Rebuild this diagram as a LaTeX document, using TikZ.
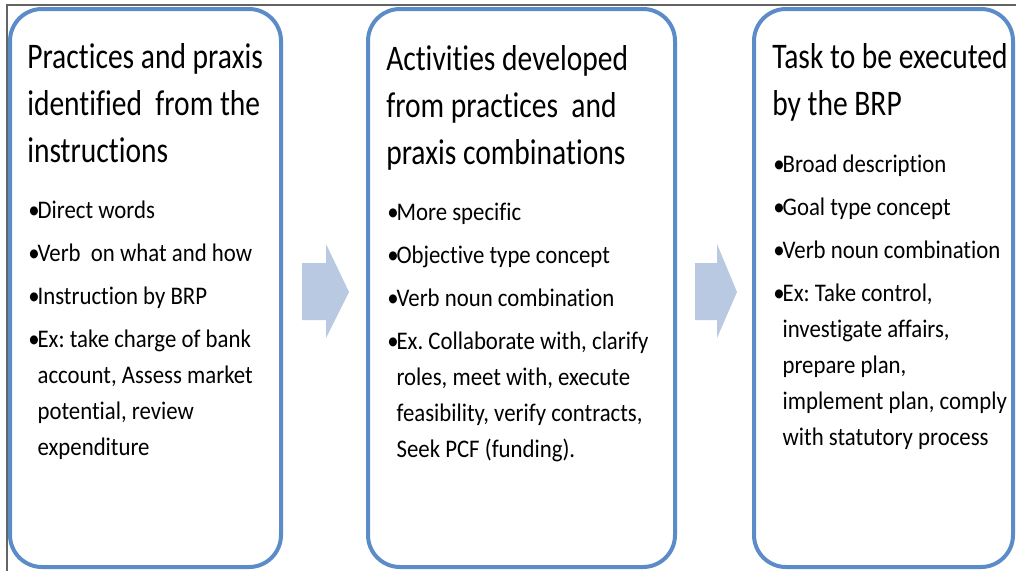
\documentclass[tikz,border=0pt]{standalone}
\usepackage{fontspec}
\setmainfont{Carlito}
\newfontfamily\titlefont[FakeStretch=0.82,Ligatures=NoCommon]{Carlito}
\newfontfamily\bulletfont[FakeStretch=0.9,Ligatures=NoCommon]{Carlito}
\definecolor{boxblue}{RGB}{92,140,200}
\definecolor{arrowfill}{RGB}{185,201,226}
\definecolor{framegray}{RGB}{100,100,100}
\frenchspacing
\newcommand{\ttlblock}[1]{\parbox[t]{260pt}{\raggedright\titlefont\fontsize{27}{35.25}\selectfont #1}}
\newcommand{\bulblock}[1]{\parbox[t]{250pt}{\bulletfont\fontsize{19}{27}\selectfont\setlength{\parskip}{5.25pt}\raggedright #1}}
\newcommand{\itm}[1]{\noindent\hangindent7pt\hangafter1 \makebox[7pt][l]{•}#1\par}
\begin{document}
\begin{tikzpicture}[x=0.75pt,y=-0.75pt,
  stage/.style={draw=boxblue,line width=3pt,rounded corners=24pt},
  blockarrow/.style={fill=arrowfill,draw=none},
  txt/.style={inner sep=0pt,anchor=base west}]
\useasboundingbox (0,0) rectangle (1016,571);
\fill[white] (0,0) rectangle (1016,571);
% frame
\draw[framegray,line width=1.1pt] (1016,5) -- (7,5) -- (7,571);
% boxes
\draw[stage] (10,9) rectangle (281,567);
\draw[stage] (368,9) rectangle (675,567);
\draw[stage] (754,9) rectangle (1013,567);
% arrows
\fill[blockarrow] (302,263) -- (326,263) -- (326,244) -- (349,292) -- (326,338) -- (326,320) -- (302,320) -- cycle;
\fill[blockarrow] (695,263) -- (717,263) -- (717,244) -- (737,292) -- (717,338) -- (717,320) -- (695,320) -- cycle;
% texts
\node[txt] (t1) at (27,68) {\ttlblock{Practices and praxis\\identified\ \ from the\\instructions}};
\node[txt] (l1) at (28,218) {\bulblock{\itm{Direct words}\itm{Verb\ \ on what and how}\itm{Instruction by BRP}\itm{Ex: take charge of bank\newline account, Assess market\newline potential, review\newline expenditure}}};
\node[txt] (t2) at (386,70) {\ttlblock{Activities developed\\from practices\ \ and\\praxis combinations}};
\node[txt] (l2) at (387,220) {\bulblock{\itm{More specific}\itm{Objective type concept}\itm{Verb noun combination}\itm{Ex. Collaborate with, clarify\newline roles, meet with, execute\newline feasibility, verify contracts,\newline Seek PCF (funding).}}};
\node[txt] (t3) at (772,68) {\ttlblock{Task to be executed\\by the BRP}};
\node[txt] (l3) at (773,172) {\bulblock{\itm{Broad description}\itm{Goal type concept}\itm{Verb noun combination}\itm{Ex: Take control,\newline investigate affairs,\newline prepare plan,\newline implement plan, comply\newline with statutory process}}};
\end{tikzpicture}
\end{document}
